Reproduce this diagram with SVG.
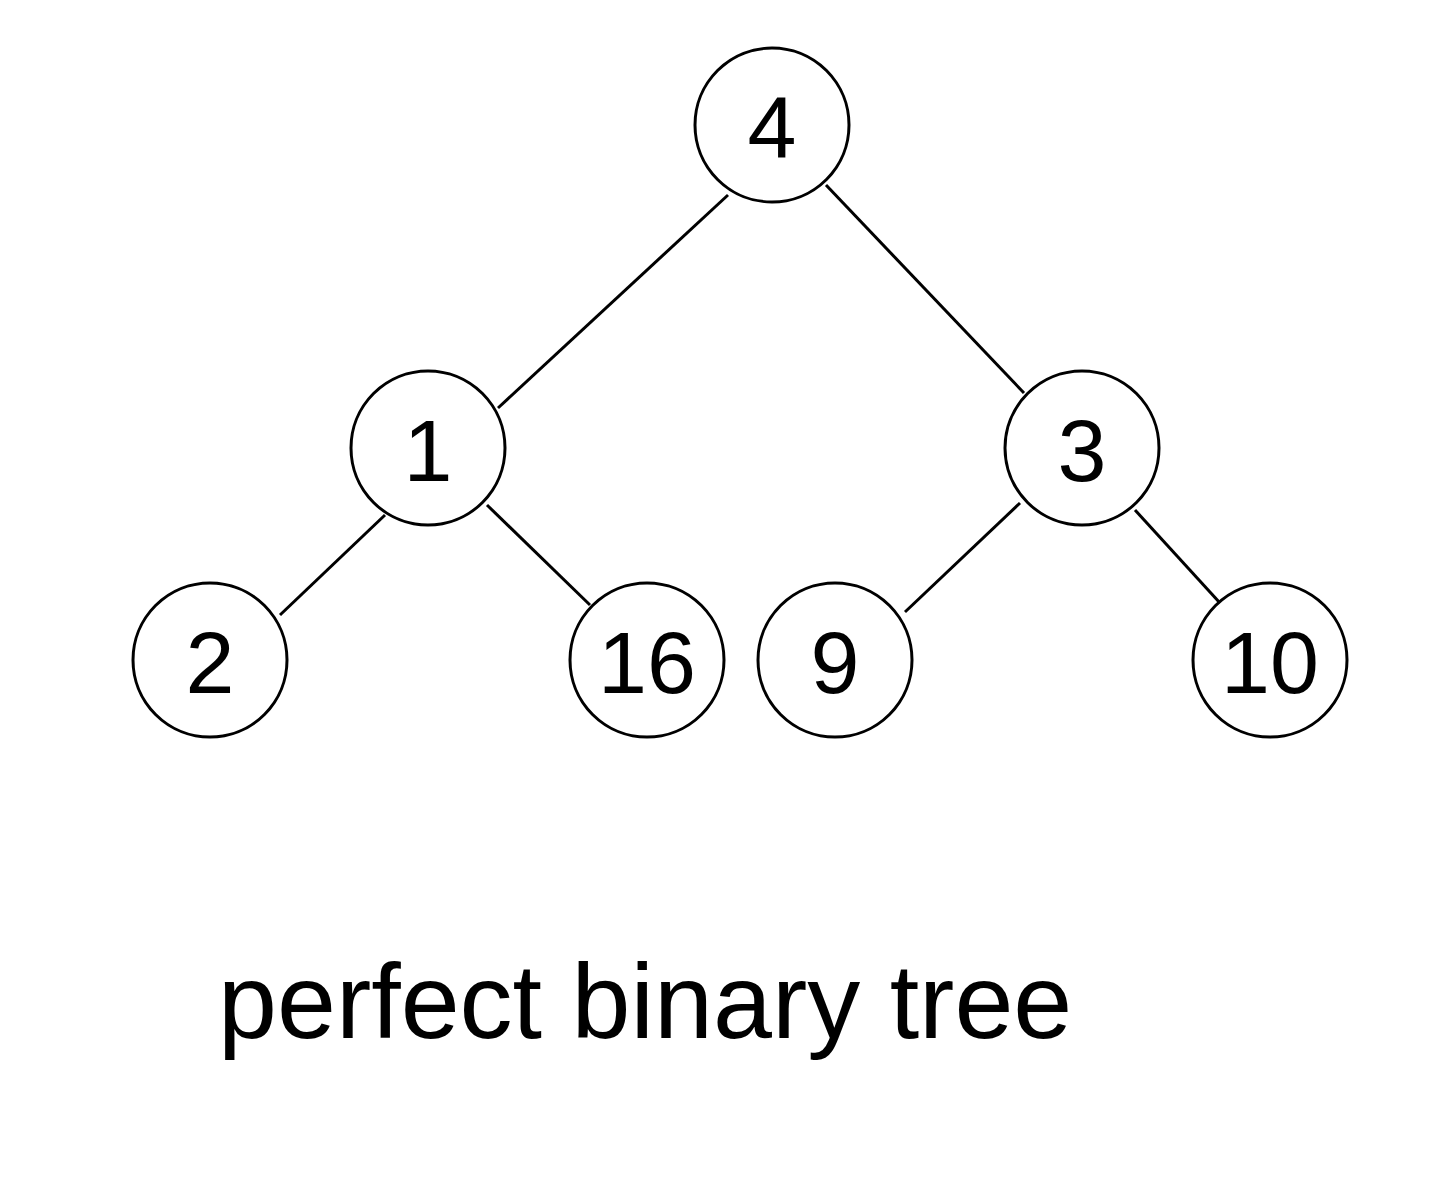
<svg xmlns="http://www.w3.org/2000/svg" width="1440" height="1182" viewBox="0 0 1440 1182">
<style>
.n circle{fill:#fff;stroke:#000;stroke-width:3}
.n text{font-family:"Liberation Sans",Arial,sans-serif;font-size:88px;text-anchor:middle;fill:#000}
#edges line{stroke:#000;stroke-width:3}
.lbl{font-family:"Liberation Sans",Arial,sans-serif;font-size:106px;fill:#000}
</style>
<rect width="1440" height="1182" fill="#fff"/>
<g id="edges">
<line x1="728" y1="195" x2="498" y2="408"/>
<line x1="826" y1="185" x2="1024" y2="393"/>
<line x1="385" y1="515" x2="280" y2="615"/>
<line x1="487" y1="505" x2="590" y2="605"/>
<line x1="1020" y1="503" x2="905" y2="612"/>
<line x1="1135" y1="510" x2="1220" y2="603"/>
</g>
<g id="n4" class="n"><circle cx="772" cy="125" r="77"/><text x="772" y="158">4</text></g>
<g id="n1" class="n"><circle cx="428" cy="448" r="77"/><text x="428" y="481">1</text></g>
<g id="n3" class="n"><circle cx="1082" cy="448" r="77"/><text x="1082" y="481">3</text></g>
<g id="n2" class="n"><circle cx="210" cy="660" r="77"/><text x="210" y="693">2</text></g>
<g id="n16" class="n"><circle cx="647" cy="660" r="77"/><text x="647" y="693">16</text></g>
<g id="n9" class="n"><circle cx="835" cy="660" r="77"/><text x="835" y="693">9</text></g>
<g id="n10" class="n"><circle cx="1270" cy="660" r="77"/><text x="1270" y="693">10</text></g>
<text class="lbl" x="218" y="1038">perfect binary tree</text>
</svg>
